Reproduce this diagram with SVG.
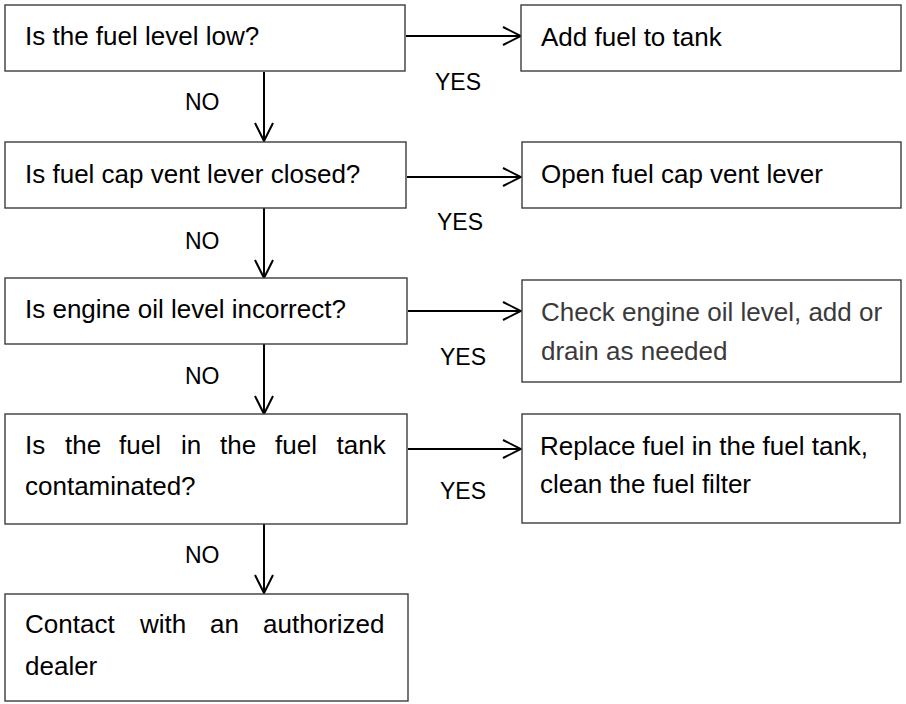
<svg xmlns="http://www.w3.org/2000/svg" width="906" height="704" viewBox="0 0 906 704">
<style>
.box{fill:#fff;stroke:#3c3c3c;stroke-width:1.4}
.t{font-family:"Liberation Sans",Arial,sans-serif;font-size:26px;fill:#000}
.g{fill:#3a3a3a}
.lbl{font-family:"Liberation Sans",Arial,sans-serif;font-size:23px;fill:#000}
.c{stroke:#000;stroke-width:2;fill:none}
</style>
<defs>
<marker id="arr" viewBox="-20 -11 22 22" refX="0" refY="0" markerWidth="22" markerHeight="22" markerUnits="userSpaceOnUse" orient="auto">
<path d="M-18,-9 L0,0 L-18,9" fill="none" stroke="#000" stroke-width="2"/>
</marker>
</defs>
<rect width="906" height="704" fill="#fff"/>
<g id="connectors">
<line class="c" x1="406" y1="36" x2="521" y2="36" marker-end="url(#arr)"/>
<line class="c" x1="407" y1="177" x2="521" y2="177" marker-end="url(#arr)"/>
<line class="c" x1="408" y1="311" x2="521" y2="311" marker-end="url(#arr)"/>
<line class="c" x1="408" y1="449" x2="521" y2="449" marker-end="url(#arr)"/>
<line class="c" x1="264" y1="72" x2="264" y2="141" marker-end="url(#arr)"/>
<line class="c" x1="264" y1="208" x2="264" y2="278" marker-end="url(#arr)"/>
<line class="c" x1="264" y1="344" x2="264" y2="414" marker-end="url(#arr)"/>
<line class="c" x1="264" y1="524" x2="264" y2="593" marker-end="url(#arr)"/>
<text class="lbl" x="435" y="90">YES</text>
<text class="lbl" x="437" y="230">YES</text>
<text class="lbl" x="440" y="365">YES</text>
<text class="lbl" x="440" y="499">YES</text>
<text class="lbl" x="185" y="110">NO</text>
<text class="lbl" x="185" y="249">NO</text>
<text class="lbl" x="185" y="384">NO</text>
<text class="lbl" x="185" y="563">NO</text>
</g>
<g id="q1">
<rect class="box" x="5" y="5" width="400" height="66"/>
<text class="t" x="25" y="45">Is the fuel level low?</text>
</g>
<g id="a1">
<rect class="box" x="521" y="5" width="380" height="66"/>
<text class="t" x="541" y="46">Add fuel to tank</text>
</g>
<g id="q2">
<rect class="box" x="5" y="142" width="401" height="66"/>
<text class="t" x="25" y="183">Is fuel cap vent lever closed?</text>
</g>
<g id="a2">
<rect class="box" x="522" y="142" width="379" height="66"/>
<text class="t" x="541" y="183">Open fuel cap vent lever</text>
</g>
<g id="q3">
<rect class="box" x="5" y="278" width="402" height="66"/>
<text class="t" x="25" y="318">Is engine oil level incorrect?</text>
</g>
<g id="a3">
<rect class="box" x="522" y="280" width="379" height="102"/>
<text class="t g" x="541" y="321">Check engine oil level, add or</text>
<text class="t g" x="541" y="360">drain as needed</text>
</g>
<g id="q4">
<rect class="box" x="5" y="414" width="402" height="110"/>
<text class="t" y="454"><tspan x="25">Is</tspan><tspan x="65">the</tspan><tspan x="119">fuel</tspan><tspan x="181">in</tspan><tspan x="220">the</tspan><tspan x="275">fuel</tspan><tspan x="336.5">tank</tspan></text>
<text class="t" x="25" y="495">contaminated?</text>
</g>
<g id="a4">
<rect class="box" x="522" y="414" width="378" height="109"/>
<text class="t" x="540" y="455">Replace fuel in the fuel tank,</text>
<text class="t" x="540" y="493">clean the fuel filter</text>
</g>
<g id="end">
<rect class="box" x="5" y="594" width="403" height="107"/>
<text class="t" y="633"><tspan x="25">Contact</tspan><tspan x="140">with</tspan><tspan x="210">an</tspan><tspan x="263">authorized</tspan></text>
<text class="t" x="25" y="675">dealer</text>
</g>
</svg>
